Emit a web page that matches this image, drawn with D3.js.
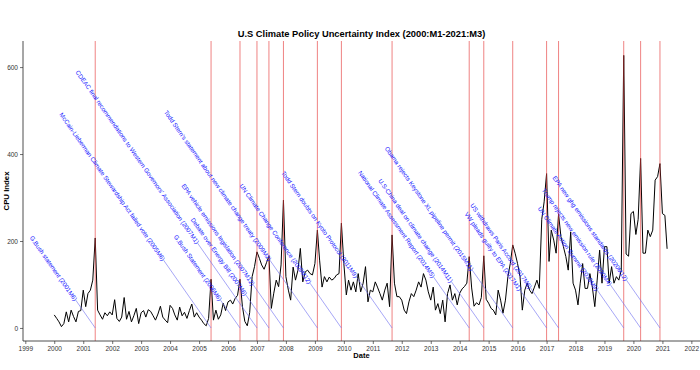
<!DOCTYPE html>
<html><head><meta charset="utf-8">
<script src="https://cdn.jsdelivr.net/npm/d3@7"></script>
<style>
body{margin:0;background:#fff}
svg{display:block;background:#fff}
text{font-family:"Liberation Sans",Arial,sans-serif}
</style>
</head><body>
<svg id="chart" width="700" height="370"></svg>
<script>
// ---- data ----
const seriesStart = [2000, 0]; // 2000:M1
const cpuValues = [
  30, 22, 14, 3, 10, 37, 14, 41, 26, 14, 38, 40,
  87, 49, 79, 87, 110, 207, 41, 30, 20, 35, 28, 37,
  30, 65, 22, 15, 25, 70, 20, 38, 14, 28, 45, 10,
  35, 40, 25, 42, 38, 28, 18, 32, 50, 25, 18, 12,
  52, 45, 30, 18, 48, 28, 36, 22, 40, 55, 25, 35,
  25, 18, 10, 5, 22, 112, 18, 41, 20, 30, 57, 40,
  60, 64, 55, 68, 75, 112, 50, 15, 5, 35, 118, 141,
  175, 160, 145, 135, 150, 165, 45, 80, 110, 95, 145, 294,
  118, 87, 64, 140, 110, 133, 183, 106, 129, 133, 125, 122,
  148, 225, 156, 94, 118, 106, 117, 110, 114, 122, 125, 241,
  148, 76, 110, 87, 106, 83, 125, 83, 103, 141, 60, 87,
  83, 106, 94, 79, 64, 87, 103, 49, 214, 103, 72, 72,
  64, 41, 33, 60, 79, 72, 87, 106, 94, 125, 110, 83,
  64, 94, 41, 56, 33, 64, 14, 79, 99, 64, 79, 53,
  80, 90, 95, 103, 164, 92, 50, 58, 53, 70, 166, 66,
  57, 45, 41, 30, 87, 64, 34, 64, 118, 148, 191, 172,
  148, 118, 41, 87, 103, 87, 79, 94, 110, 91, 250, 290,
  355, 153, 225, 202, 172, 262, 210, 187, 164, 133, 221, 103,
  87, 53, 103, 148, 91, 91, 125, 94, 49, 110, 179, 103,
  187, 187, 103, 141, 103, 118, 110, 133, 627, 170, 165, 263,
  268, 215, 250, 390, 172, 172, 225, 210, 225, 340, 348, 378,
  263, 259, 182
];
const eventDates = ["2001-06","2005-06","2006-06","2007-01","2007-06","2007-12","2009-02","2009-12",
  "2011-09","2014-05","2014-11","2015-11","2017-01","2017-06","2019-09","2020-04","2020-12"];
const eventLabels = [
  "G.Bush statement (2001M6)",
  "McCain-Lieberman Climate Stewardship Act failed vote (2005M6)",
  "G.Bush Statement (2006M6)",
  "CDEAC final recommendations to Western Governors' Association (2007M1)",
  "Debate over Energy Bill (2007M6)",
  "EPA vehicle emissions legislation (2007M12)",
  "Todd Stern's statement about new climate change treaty (2009M2)",
  "UN Climate Change Conference (2009M12)",
  "Todd Stern doubts on Kyoto Protocol (2011M9)",
  "National Climate Assessment Report (2014M5)",
  "U.S-China deal on climate change (2014M11)",
  "Obama rejects Keystone XL pipeline permit (2015M11)",
  "VW pleads guilty to EPA (2017M1)",
  "US withdraws Paris Accord (2017M6)",
  "UN Climate Action Summit (2019M9)",
  "Trump rejects new emission rule (2020M4)",
  "EPA new ghg emissions standards (2020M12)"
];
const labelLevels = [64, 156, 64, 195, 76, 99, 156, 103, 117, 117, 106, 133, 87, 92, 87, 99, 110];
const yTicks = [0, 200, 400, 600];
const xTickYears = d3.range(1999, 2023);
const titleText = "U.S Climate Policy Uncertainty Index (2000:M1-2021:M3)";
const xTitle = "Date", yTitle = "CPU Index";

// ---- layout ----
const W = 700, H = 370;
const plot = {left: 23, right: 700, top: 41, bottom: 341};
const labelAngle = 55;

const parseYM = d3.timeParse("%Y-%m");
const series = cpuValues.map((v, i) => ({date: new Date(seriesStart[0], seriesStart[1] + i, 1), value: v}));
const events = eventDates.map((d, i) => ({date: parseYM(d), label: eventLabels[i], level: labelLevels[i]}));

const x = d3.scaleTime()
  .domain([new Date(1998, 11, 3), new Date(2022, 3, 20)])
  .range([plot.left, plot.right]);
const y = d3.scaleLinear().domain([-30, 660]).range([plot.bottom, plot.top]);

const svg = d3.select("#chart");
svg.append("rect").attr("width", W).attr("height", H).attr("fill", "#fff");

// series line
svg.append("path")
  .datum(series)
  .attr("fill", "none")
  .attr("stroke", "#000")
  .attr("stroke-width", 1)
  .attr("stroke-linejoin", "round")
  .attr("d", d3.line().x(d => x(d.date)).y(d => y(d.value)));

// event vertical lines
svg.append("g").selectAll("line").data(events).join("line")
  .attr("x1", d => x(d.date)).attr("x2", d => x(d.date))
  .attr("y1", plot.top).attr("y2", plot.bottom)
  .attr("stroke", "#e53a3a").attr("stroke-opacity", 0.7).attr("stroke-width", 0.9);

// connectors and labels
const tanA = Math.tan(labelAngle * Math.PI / 180);
function endPoint(d) {
  const ye = y(d.level);
  const xe = x(d.date) - (y(0) - ye) / tanA;
  return [xe, ye];
}
svg.append("g").selectAll("line").data(events).join("line")
  .attr("x1", d => x(d.date)).attr("y1", y(0))
  .attr("x2", d => endPoint(d)[0]).attr("y2", d => endPoint(d)[1])
  .attr("stroke", "#6a6aef").attr("stroke-opacity", 0.85).attr("stroke-width", 0.7);

svg.append("g").selectAll("text").data(events).join("text")
  .attr("transform", d => { const p = endPoint(d); return `translate(${p[0]},${p[1]}) rotate(${labelAngle})`; })
  .attr("text-anchor", "end")
  .attr("dy", "0.35em")
  .attr("font-size", 6.2)
  .attr("fill", "#1010ff")
  .text(d => d.label);

// axes
const xAxis = d3.axisBottom(x)
  .tickValues(xTickYears.map(yr => new Date(yr, 0, 1)))
  .tickFormat(d3.timeFormat("%Y"))
  .tickSize(3).tickSizeOuter(0).tickPadding(2);
const gx = svg.append("g").attr("transform", `translate(0,${plot.bottom})`).call(xAxis);
const yAxis = d3.axisLeft(y).tickValues(yTicks).tickSize(3).tickSizeOuter(0).tickPadding(2);
const gy = svg.append("g").attr("transform", `translate(${plot.left},0)`).call(yAxis);
[gx, gy].forEach(g => {
  g.select(".domain").attr("stroke", "#222").attr("stroke-width", 0.8);
  g.selectAll(".tick line").attr("stroke", "#333").attr("stroke-width", 0.7);
  g.selectAll(".tick text").attr("font-size", 6.5).attr("fill", "#333")
    .style("font-family", '"Liberation Sans",Arial,sans-serif');
});
gy.select(".domain").attr("d", `M0,${plot.top}V${plot.bottom}`);
gx.select(".domain").attr("d", `M${plot.left},0H${plot.right}`);

// titles
svg.append("text").attr("x", (plot.left + plot.right) / 2).attr("y", 37)
  .attr("text-anchor", "middle").attr("font-size", 9.3).attr("font-weight", "bold")
  .attr("fill", "#000").text(titleText);
svg.append("text").attr("x", (plot.left + plot.right) / 2).attr("y", 358)
  .attr("text-anchor", "middle").attr("font-size", 7.5).attr("font-weight", "bold")
  .attr("fill", "#000").text(xTitle);
svg.append("text").attr("transform", `translate(9,${(plot.top + plot.bottom) / 2}) rotate(-90)`)
  .attr("text-anchor", "middle").attr("font-size", 7.8).attr("font-weight", "bold")
  .attr("fill", "#000").text(yTitle);
</script>
</body></html>
